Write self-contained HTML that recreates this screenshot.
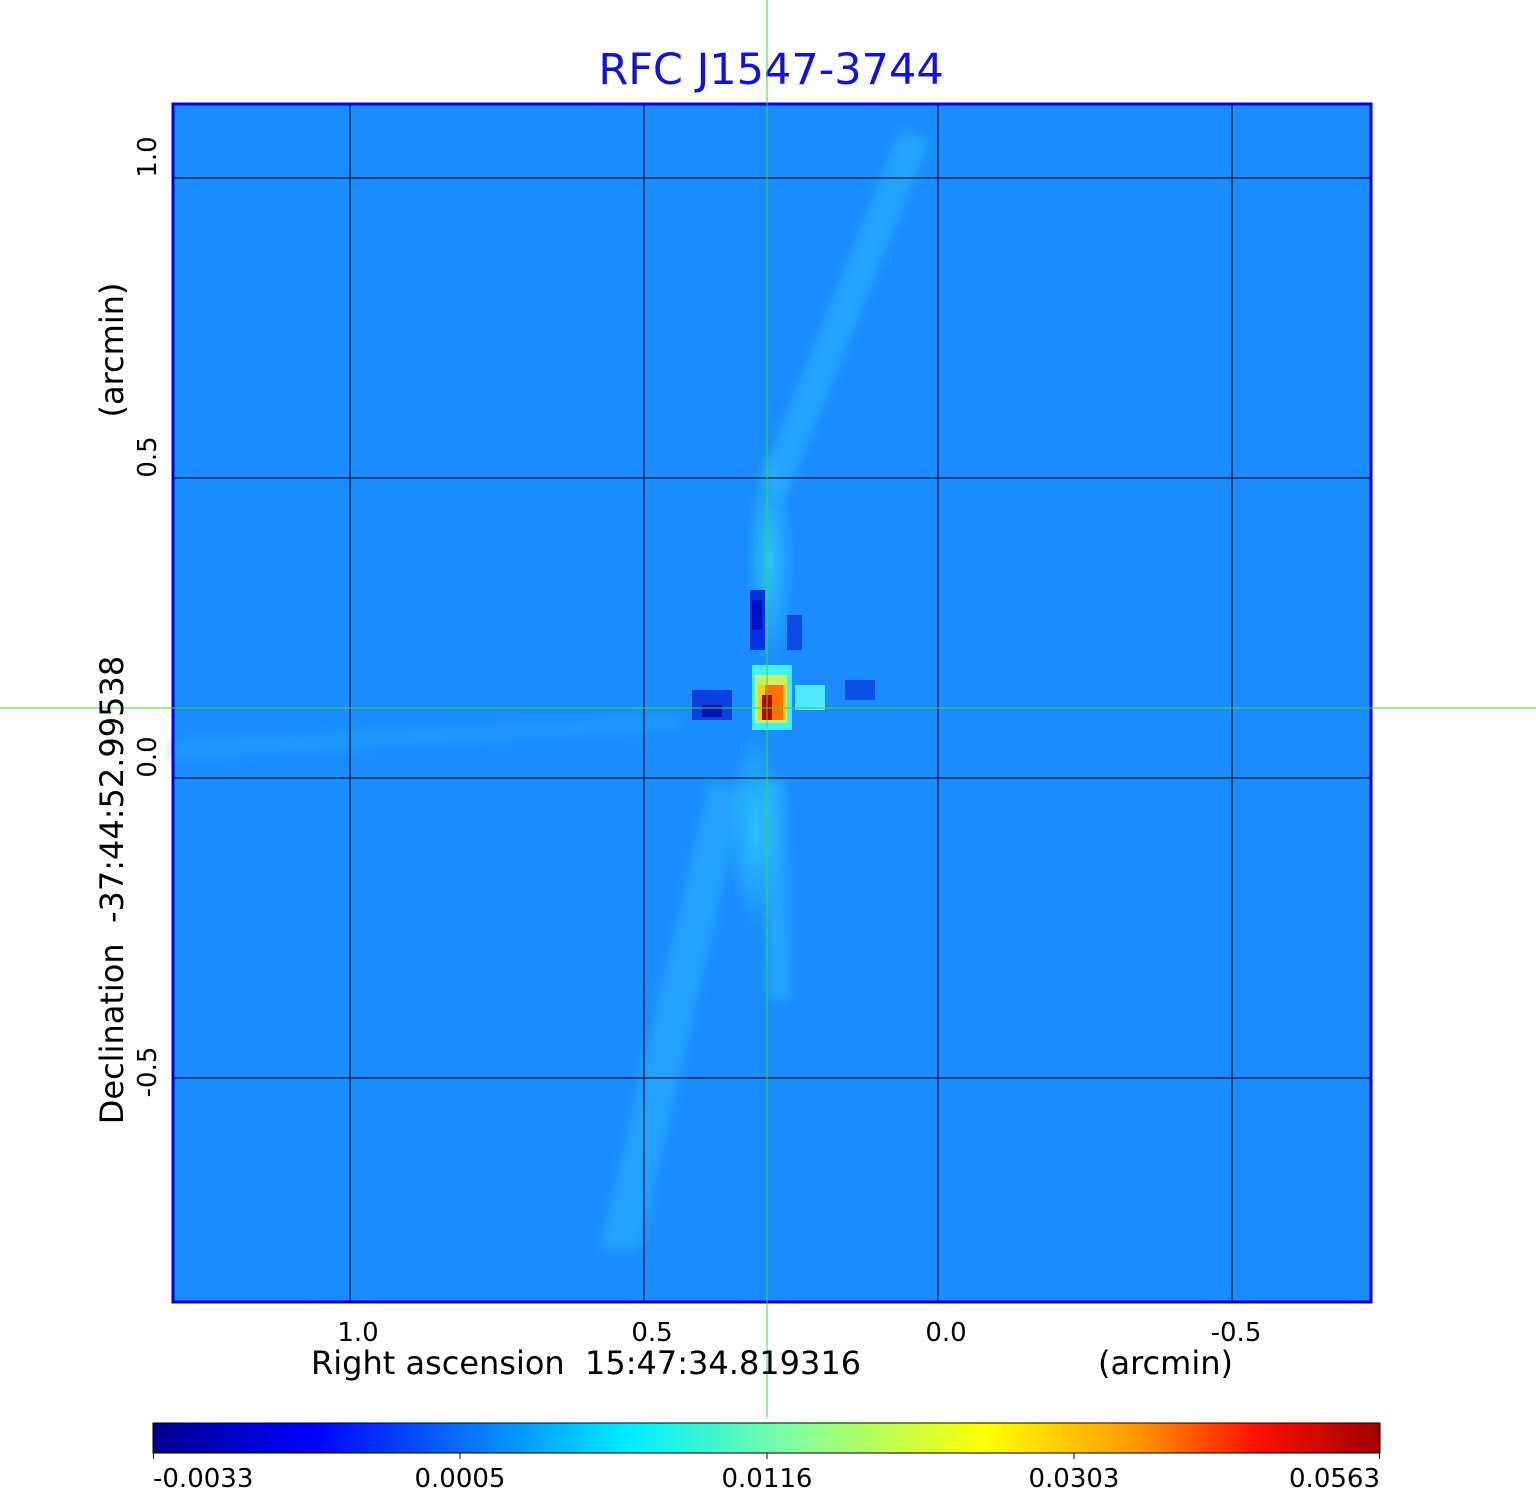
<!DOCTYPE html>
<html><head><style>
body{margin:0;background:#fff;width:1536px;height:1511px;position:relative;overflow:hidden;font-family:"DejaVu Sans","Liberation Sans",sans-serif}
.t{position:absolute;color:#000;white-space:nowrap}
</style></head><body>
<div class="t" style="left:0;width:1542px;text-align:center;top:45px;font-size:43px;color:#1010e0">RFC J1547-3744</div>
<svg width="1536" height="1511" style="position:absolute;left:0;top:0">
<defs>
<linearGradient id="jet" x1="0" x2="1">
<stop offset="0" stop-color="#00008f"/><stop offset="0.13" stop-color="#0000ff"/>
<stop offset="0.25" stop-color="#0a6cff"/><stop offset="0.39" stop-color="#00eeff"/>
<stop offset="0.52" stop-color="#80ffa0"/><stop offset="0.68" stop-color="#ffff00"/>
<stop offset="0.8" stop-color="#ff9900"/><stop offset="0.9" stop-color="#ff1000"/>
<stop offset="1" stop-color="#a00000"/></linearGradient>
<radialGradient id="glow"><stop offset="0" stop-color="#30d8ff" stop-opacity="0.7"/><stop offset="1" stop-color="#30d8ff" stop-opacity="0"/></radialGradient>
<filter id="bl"><feGaussianBlur stdDeviation="6"/></filter>
</defs>
<rect x="172" y="103" width="1200" height="1200" fill="#1a8cff"/>
<g opacity="0.45" filter="url(#bl)">
<path d="M760 480 L900 130 L930 140 L785 500Z" fill="#30c0ff"/>
<path d="M710 780 L600 1250 L640 1250 L745 790Z" fill="#30bcff"/>
<path d="M762 780 L770 1000 L790 1000 L785 780Z" fill="#30c8ff"/>
<path d="M172 740 L680 715 L680 730 L172 760Z" fill="#28a8ff"/>
</g>
<ellipse cx="770" cy="560" rx="25" ry="110" fill="url(#glow)"/>
<ellipse cx="755" cy="830" rx="28" ry="100" fill="url(#glow)"/>
<rect x="750" y="590" width="15" height="60" fill="#0030e0"/>
<rect x="752" y="600" width="10" height="30" fill="#0010c0"/>
<rect x="787" y="615" width="15" height="35" fill="#0a4ae8"/>
<rect x="692" y="690" width="40" height="30" fill="#0a40e0"/>
<rect x="702" y="705" width="20" height="12" fill="#0010b8"/>
<rect x="845" y="680" width="30" height="20" fill="#0a50e8"/>
<rect x="795" y="685" width="30" height="25" fill="#50e8ff"/>
<rect x="752" y="665" width="40" height="65" fill="#40f0ff"/>
<rect x="755" y="675" width="32" height="48" fill="#c8f060"/>
<rect x="758" y="685" width="28" height="35" fill="#ffd000"/>
<rect x="765" y="685" width="18" height="35" fill="#ff7000"/>
<rect x="762" y="695" width="10" height="25" fill="#c00000"/>
<g stroke="#000" stroke-width="1" fill="none">
<path d="M350 103V1303M644 103V1303M938 103V1303M1232 103V1303M172 178H1372M172 478H1372M172 778H1372M172 1078H1372"/>
</g>
<rect x="173" y="104" width="1198" height="1198" fill="none" stroke="#0000dd" stroke-width="3"/>
<rect x="153" y="1423" width="1227" height="30" fill="url(#jet)" stroke="#000" stroke-width="1"/>
<path d="M153.5 1453v6M460 1453v6M767 1453v6M1074 1453v6M1379.5 1453v6" stroke="#000"/>
<path d="M767 0V1418M0 708H1536" stroke="#30e030" stroke-width="1"/>
<g font-size="26" fill="#000">
<text transform="translate(156,157) rotate(-90)" text-anchor="middle">1.0</text>
<text transform="translate(156,457) rotate(-90)" text-anchor="middle">0.5</text>
<text transform="translate(156,757) rotate(-90)" text-anchor="middle">0.0</text>
<text transform="translate(156,1072) rotate(-90)" text-anchor="middle">-0.5</text>
<text transform="translate(123,350) rotate(-90)" text-anchor="middle" font-size="32">(arcmin)</text>
<text transform="translate(123,890) rotate(-90)" text-anchor="middle" font-size="32" xml:space="preserve">Declination  -37:44:52.99538</text>
<text x="358" y="1341" text-anchor="middle">1.0</text>
<text x="652" y="1341" text-anchor="middle">0.5</text>
<text x="946" y="1341" text-anchor="middle">0.0</text>
<text x="1236" y="1341" text-anchor="middle">-0.5</text>
<text x="311" y="1374" font-size="32" xml:space="preserve">Right ascension  15:47:34.819316</text>
<text x="1098" y="1374" font-size="32">(arcmin)</text>
<text x="153" y="1487" text-anchor="start">-0.0033</text>
<text x="460" y="1487" text-anchor="middle">0.0005</text>
<text x="767" y="1487" text-anchor="middle">0.0116</text>
<text x="1074" y="1487" text-anchor="middle">0.0303</text>
<text x="1380" y="1487" text-anchor="end">0.0563</text>
</g>
</svg>
</body></html>
